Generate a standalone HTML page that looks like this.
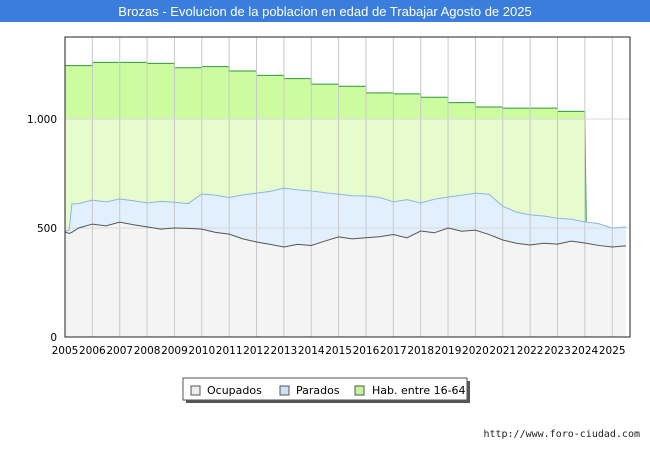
<!DOCTYPE html>
<html><head><meta charset="utf-8"><style>
body{margin:0;width:650px;height:450px;background:#fff;font-family:"Liberation Sans","DejaVu Sans",sans-serif;overflow:hidden}
</style></head><body>
<svg width="650" height="450">
<rect x="0" y="0" width="650" height="22" fill="#3b7ddd"/>
<text x="325" y="16" text-anchor="middle" font-size="13" fill="#fff">Brozas - Evolucion de la poblacion en edad de Trabajar Agosto de 2025</text>
<g id="plot"></g>
<g font-family="DejaVu Sans, sans-serif">
<rect x="186" y="381" width="284" height="22" fill="#555"/>
<rect x="183" y="378" width="284" height="22" fill="#fff" stroke="#555"/>
<rect x="191" y="386" width="9" height="9" fill="#eee" stroke="#555"/>
<text x="207" y="394" font-size="11">Ocupados</text>
<rect x="280" y="386" width="9" height="9" fill="#cce2fa" stroke="#555"/>
<text x="296" y="394" font-size="11">Parados</text>
<rect x="355" y="386" width="9" height="9" fill="#c4f59c" stroke="#555"/>
<text x="372" y="394" font-size="11">Hab. entre 16-64</text>
</g>
<text x="640" y="437" text-anchor="end" font-size="10" fill="#222" font-family="DejaVu Sans Mono, monospace">http://www.foro-ciudad.com</text>
</svg>
<script>
const years=[2005,2006,2007,2008,2009,2010,2011,2012,2013,2014,2015,2016,2017,2018,2019,2020,2021,2022,2023];
const hab=[1245,1260,1260,1255,1235,1240,1220,1200,1185,1160,1150,1120,1115,1100,1075,1055,1050,1050,1035];
const habEnd=530;
const tTimes=[2005,2005.15,2005.25,2005.5,2006,2006.5,2007,2007.5,2008,2008.5,2009,2009.5,2010,2010.5,2011,2011.5,2012,2012.5,2013,2013.5,2014,2014.5,2015,2015.5,2016,2016.5,2017,2017.5,2018,2018.5,2019,2019.5,2020,2020.5,2021,2021.5,2022,2022.5,2023,2023.5,2024,2024.5,2025,2025.5];
const totalVals=[485,490,610,612,628,620,633,625,615,622,618,612,656,650,640,652,660,668,683,675,670,662,655,648,647,640,620,630,615,632,642,650,660,655,600,573,560,555,545,540,528,520,500,505];
const ocupVals=[482,475,480,500,518,510,527,515,505,495,500,498,495,480,472,450,436,425,413,425,420,440,459,450,455,460,470,455,486,478,500,485,490,470,445,430,422,430,426,440,431,420,413,418];
const yTicks=[0,500,1000];const yLabels=["0","500","1.000"];
const xTicks=[2005,2006,2007,2008,2009,2010,2011,2012,2013,2014,2015,2016,2017,2018,2019,2020,2021,2022,2023,2024,2025];
const X0=65,X1=630,Y0=337,Y1=37;
const xs=t=>X0+(t-2005)*(X1-X0)/(2025.65-2005);
const ys=v=>Y0-v*0.218;
const NS="http://www.w3.org/2000/svg";
const g=document.getElementById('plot');
function mk(tag,a,p){const e=document.createElementNS(NS,tag);for(const k in a)e.setAttribute(k,a[k]);(p||g).appendChild(e);return e;}
const bg=mk('rect',{x:X0,y:Y1,width:X1-X0,height:Y0-Y1,fill:'#fff'});


let d=`M${xs(2005)},${Y0}`;
years.forEach((y,i)=>{d+=` L${xs(y)},${ys(hab[i])} L${xs(y+1)},${ys(hab[i])}`;});
d+=` L${xs(2024.05)},${ys(habEnd)} L${xs(2024.05)},${Y0}Z`;
const ha=mk('path',{d:d,fill:'#e6fccc'});


years.forEach((y,i)=>{const r=mk('rect',{x:xs(y),y:ys(hab[i]),width:xs(y+1)-xs(y),height:ys(1000)-ys(hab[i]),fill:'#cdfca0'});

});
let ld=`M${xs(2005)},${ys(hab[0])}`;
years.forEach((y,i)=>{ld+=` L${xs(y)},${ys(hab[i])} L${xs(y+1)},${ys(hab[i])}`;});
ld+=` L${xs(2024.05)},${ys(habEnd)}`;
const hl=mk('path',{d:ld,fill:'none',stroke:'#2a9a3a','stroke-width':1});


const pts=a=>a.map((v,i)=>`${xs(tTimes[i])},${ys(v)}`).join(' L');
const ta=mk('path',{d:`M${xs(2005)},${Y0} L${pts(totalVals)} L${xs(tTimes[tTimes.length-1])},${Y0}Z`,fill:'#e2f0fe'});


const oa=mk('path',{d:`M${xs(2005)},${Y0} L${pts(ocupVals)} L${xs(tTimes[tTimes.length-1])},${Y0}Z`,fill:'#f4f4f4'});


xTicks.forEach(t=>{const l=mk('line',{x1:xs(t),x2:xs(t),y1:Y1,y2:Y0,stroke:'#c8c8c8'});


const tx=mk('text',{x:xs(t),y:Y0+17,'font-size':10.5,'text-anchor':'middle','font-family':'DejaVu Sans, sans-serif'});tx.textContent=t;

});
yTicks.forEach((v,i)=>{const l=mk('line',{x1:X0,x2:X1,y1:ys(v),y2:ys(v),stroke:'#d8d8d8'});


const tx=mk('text',{x:X0-8,y:ys(v)+4,'font-size':10.5,'text-anchor':'end','font-family':'DejaVu Sans, sans-serif'});tx.textContent=yLabels[i];

});
const tl=mk('path',{d:`M${pts(totalVals)}`,fill:'none',stroke:'#8fb4e8','stroke-width':1});


const ol=mk('path',{d:`M${pts(ocupVals)}`,fill:'none',stroke:'#555','stroke-width':1});


const fr=mk('rect',{x:X0,y:Y1,width:X1-X0,height:Y0-Y1,fill:'none',stroke:'#222'});


</script>
</body></html>
